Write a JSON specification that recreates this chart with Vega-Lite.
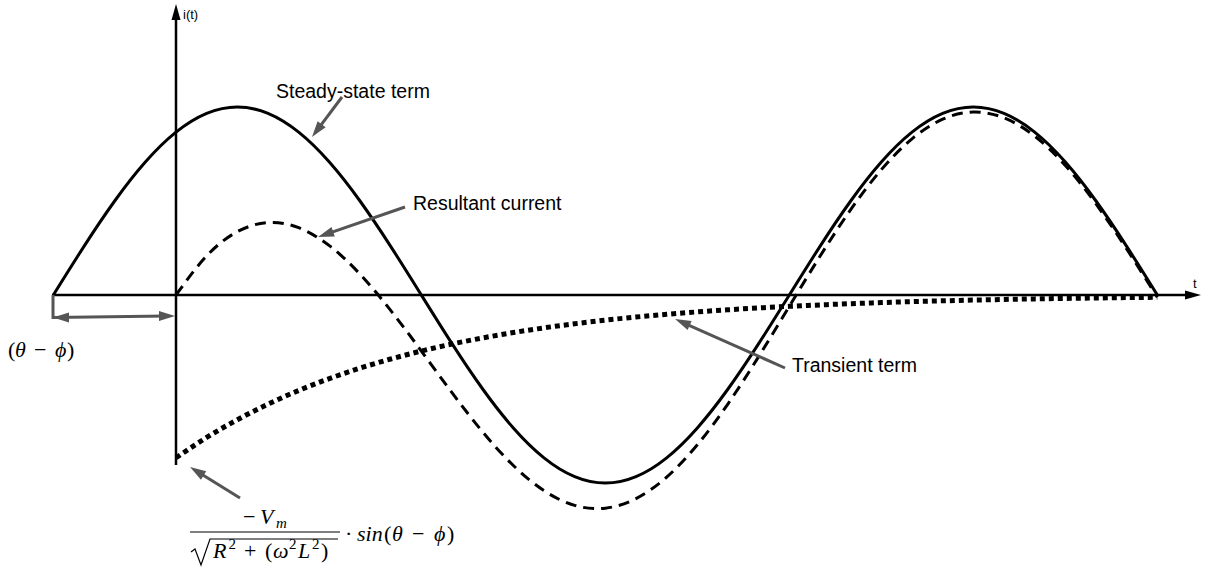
{
  "$schema": "https://vega.github.io/schema/vega-lite/v6.json",
  "width": 1207,
  "height": 570,
  "padding": 0,
  "autosize": {"type": "none"},
  "background": "white",
  "config": {"view": {"stroke": null}},
  "datasets": {
    "steady": [
      {"deg": -60, "i": 0}, {"deg": -45, "i": 0.2588}, {"deg": -30, "i": 0.5}, {"deg": -15, "i": 0.7071},
      {"deg": 0, "i": 0.866}, {"deg": 15, "i": 0.9659}, {"deg": 30, "i": 1}, {"deg": 45, "i": 0.9659},
      {"deg": 60, "i": 0.866}, {"deg": 75, "i": 0.7071}, {"deg": 90, "i": 0.5}, {"deg": 105, "i": 0.2588},
      {"deg": 120, "i": 0}, {"deg": 135, "i": -0.2588}, {"deg": 150, "i": -0.5}, {"deg": 165, "i": -0.7071},
      {"deg": 180, "i": -0.866}, {"deg": 195, "i": -0.9659}, {"deg": 210, "i": -1}, {"deg": 225, "i": -0.9659},
      {"deg": 240, "i": -0.866}, {"deg": 255, "i": -0.7071}, {"deg": 270, "i": -0.5}, {"deg": 285, "i": -0.2588},
      {"deg": 300, "i": 0}, {"deg": 315, "i": 0.2588}, {"deg": 330, "i": 0.5}, {"deg": 345, "i": 0.7071},
      {"deg": 360, "i": 0.866}, {"deg": 375, "i": 0.9659}, {"deg": 390, "i": 1}, {"deg": 405, "i": 0.9659},
      {"deg": 420, "i": 0.866}, {"deg": 435, "i": 0.7071}, {"deg": 450, "i": 0.5}, {"deg": 465, "i": 0.2588},
      {"deg": 480, "i": 0}
    ],
    "transient": [
      {"deg": 0, "i": -0.866}, {"deg": 15, "i": -0.7579}, {"deg": 30, "i": -0.6633}, {"deg": 45, "i": -0.5805},
      {"deg": 60, "i": -0.508}, {"deg": 75, "i": -0.4446}, {"deg": 90, "i": -0.3891}, {"deg": 105, "i": -0.3405},
      {"deg": 120, "i": -0.298}, {"deg": 135, "i": -0.2608}, {"deg": 150, "i": -0.2283}, {"deg": 165, "i": -0.1998},
      {"deg": 180, "i": -0.1748}, {"deg": 195, "i": -0.153}, {"deg": 210, "i": -0.1339}, {"deg": 225, "i": -0.1172},
      {"deg": 240, "i": -0.1026}, {"deg": 255, "i": -0.0898}, {"deg": 270, "i": -0.0786}, {"deg": 285, "i": -0.0688},
      {"deg": 300, "i": -0.0602}, {"deg": 315, "i": -0.0527}, {"deg": 330, "i": -0.0461}, {"deg": 345, "i": -0.0403},
      {"deg": 360, "i": -0.0353}, {"deg": 375, "i": -0.0309}, {"deg": 390, "i": -0.027}, {"deg": 405, "i": -0.0237},
      {"deg": 420, "i": -0.0207}, {"deg": 435, "i": -0.0181}, {"deg": 450, "i": -0.0159}, {"deg": 465, "i": -0.0139},
      {"deg": 480, "i": -0.0122}
    ],
    "resultant": [
      {"deg": 0, "i": 0}, {"deg": 15, "i": 0.208}, {"deg": 30, "i": 0.3367}, {"deg": 45, "i": 0.3854},
      {"deg": 60, "i": 0.358}, {"deg": 75, "i": 0.2625}, {"deg": 90, "i": 0.1109}, {"deg": 105, "i": -0.0817},
      {"deg": 120, "i": -0.298}, {"deg": 135, "i": -0.5196}, {"deg": 150, "i": -0.7283}, {"deg": 165, "i": -0.9069},
      {"deg": 180, "i": -1.0408}, {"deg": 195, "i": -1.1189}, {"deg": 210, "i": -1.1339}, {"deg": 225, "i": -1.0831},
      {"deg": 240, "i": -0.9686}, {"deg": 255, "i": -0.7969}, {"deg": 270, "i": -0.5786}, {"deg": 285, "i": -0.3276},
      {"deg": 300, "i": -0.0602}, {"deg": 315, "i": 0.2061}, {"deg": 330, "i": 0.4539}, {"deg": 345, "i": 0.6668},
      {"deg": 360, "i": 0.8307}, {"deg": 375, "i": 0.935}, {"deg": 390, "i": 0.973}, {"deg": 405, "i": 0.9422},
      {"deg": 420, "i": 0.8453}, {"deg": 435, "i": 0.689}, {"deg": 450, "i": 0.4841}, {"deg": 465, "i": 0.2449},
      {"deg": 480, "i": -0.0122}
    ],
    "axes": [
      {"seg": "t", "k": 0, "deg": -60.65, "i": 0},
      {"seg": "t", "k": 1, "deg": 496.96, "i": 0},
      {"seg": "i", "k": 0, "deg": 0, "i": -0.9043},
      {"seg": "i", "k": 1, "deg": 0, "i": 1.4894}
    ],
    "axisHeads": [
      {"deg": 501.36, "i": 0, "ang": 90},
      {"deg": 0, "i": 1.5479, "ang": 0}
    ],
    "pointers": [
      {"seg": "steady", "k": 0, "deg": 81.2, "i": 1.0532},
      {"seg": "steady", "k": 1, "deg": 68.87, "i": 0.8745},
      {"seg": "resultant", "k": 0, "deg": 112.01, "i": 0.4681},
      {"seg": "resultant", "k": 1, "deg": 73.17, "i": 0.3223},
      {"seg": "transient", "k": 0, "deg": 297.88, "i": -0.3883},
      {"seg": "transient", "k": 1, "deg": 247.65, "i": -0.1452},
      {"seg": "initial", "k": 0, "deg": 31.3, "i": -1.0798},
      {"seg": "initial", "k": 1, "deg": 10.17, "i": -0.9372},
      {"seg": "shift", "k": 0, "deg": -60.16, "i": 0},
      {"seg": "shift", "k": 1, "deg": -60.16, "i": -0.1197},
      {"seg": "shift", "k": 2, "deg": -4.4, "i": -0.1117}
    ],
    "pointerHeads": [
      {"deg": 66.52, "i": 0.8404, "ang": 216.87},
      {"deg": 69.46, "i": 0.3085, "ang": 250.97},
      {"deg": 244.08, "i": -0.1277, "ang": 294.0},
      {"deg": 6.848, "i": -0.9149, "ang": 301.8},
      {"deg": -60.16, "i": -0.1197, "ang": 270},
      {"deg": -0.489, "i": -0.1117, "ang": 90}
    ],
    "formulaStrokes": [
      {"seg": "bar", "k": 0, "deg": 6.848, "i": -1.2606},
      {"seg": "bar", "k": 1, "deg": 80.217, "i": -1.2606},
      {"seg": "root", "k": 0, "deg": 7.337, "i": -1.367},
      {"seg": "root", "k": 1, "deg": 9.293, "i": -1.3511},
      {"seg": "root", "k": 2, "deg": 12.228, "i": -1.4362},
      {"seg": "root", "k": 3, "deg": 16.63, "i": -1.2979},
      {"seg": "root", "k": 4, "deg": 79.239, "i": -1.2979}
    ],
    "labels": [
      {"deg": 48.91, "i": 1.0479, "label": "Steady-state term"},
      {"deg": 115.92, "i": 0.4521, "label": "Resultant current"},
      {"deg": 301.3, "i": -0.4096, "label": "Transient term"}
    ],
    "axisLabels": [
      {"deg": 3.424, "i": 1.4894, "label": "i(t)"},
      {"deg": 497.45, "i": 0.0585, "label": "t"}
    ],
    "mathItalic": [
      {"deg": -78.75, "i": -0.3298, "label": "θ"},
      {"deg": -59.18, "i": -0.3298, "label": "ϕ"},
      {"deg": 41.09, "i": -1.2181, "label": "V"},
      {"deg": 18.1, "i": -1.3989, "label": "R"},
      {"deg": 47.45, "i": -1.3989, "label": "ω"},
      {"deg": 59.67, "i": -1.3989, "label": "L"},
      {"deg": 88.53, "i": -1.3085, "label": "sin"},
      {"deg": 105.65, "i": -1.3085, "label": "θ"},
      {"deg": 126.2, "i": -1.3085, "label": "ϕ"}
    ],
    "mathUpright": [
      {"deg": -82.17, "i": -0.3298, "label": "("},
      {"deg": -69.46, "i": -0.3298, "label": "−"},
      {"deg": -53.32, "i": -0.3298, "label": ")"},
      {"deg": 32.77, "i": -1.2181, "label": "−"},
      {"deg": 33.26, "i": -1.3989, "label": "+"},
      {"deg": 43.53, "i": -1.3989, "label": "("},
      {"deg": 70.92, "i": -1.3989, "label": ")"},
      {"deg": 82.66, "i": -1.3085, "label": "·"},
      {"deg": 101.74, "i": -1.3085, "label": "("},
      {"deg": 115.43, "i": -1.3085, "label": "−"},
      {"deg": 132.55, "i": -1.3085, "label": ")"}
    ],
    "mathSup": [
      {"deg": 25.68, "i": -1.3511, "label": "2"},
      {"deg": 55.27, "i": -1.3511, "label": "2"},
      {"deg": 66.52, "i": -1.3511, "label": "2"}
    ],
    "mathSub": [
      {"deg": 48.91, "i": -1.2394, "label": "m"}
    ]
  },
  "encoding": {
    "x": {"field": "deg", "type": "quantitative", "axis": null,
          "scale": {"domain": [-86.087, 504.29], "nice": false, "zero": false}},
    "y": {"field": "i", "type": "quantitative", "axis": null,
          "scale": {"domain": [-1.46277, 1.56915], "nice": false, "zero": false}}
  },
  "layer": [
    {
      "data": {"name": "transient"},
      "mark": {"type": "line", "interpolate": "natural", "color": "#000000", "strokeWidth": 5, "strokeDash": [5, 4], "strokeCap": "butt"},
      "encoding": {}
    },
    {
      "data": {"name": "resultant"},
      "mark": {"type": "line", "interpolate": "natural", "color": "#000000", "strokeWidth": 3, "strokeDash": [11, 7], "strokeCap": "butt"},
      "encoding": {}
    },
    {
      "data": {"name": "steady"},
      "mark": {"type": "line", "interpolate": "natural", "color": "#000000", "strokeWidth": 3},
      "encoding": {}
    },
    {
      "data": {"name": "axes"},
      "mark": {"type": "line", "color": "#000000", "strokeWidth": 2.5},
      "encoding": {"detail": {"field": "seg"}, "order": {"field": "k", "type": "quantitative"}}
    },
    {
      "data": {"name": "axisHeads"},
      "mark": {"type": "point", "shape": "M0,0L-0.45,1.6L0.45,1.6Z", "filled": true, "color": "#000000", "opacity": 1, "size": 400},
      "encoding": {"angle": {"field": "ang", "type": "quantitative", "scale": null}}
    },
    {
      "data": {"name": "pointers"},
      "mark": {"type": "line", "color": "#555555", "strokeWidth": 3},
      "encoding": {"detail": {"field": "seg"}, "order": {"field": "k", "type": "quantitative"}}
    },
    {
      "data": {"name": "pointerHeads"},
      "mark": {"type": "point", "shape": "M0,0L-0.5,1.6L0.5,1.6Z", "filled": true, "color": "#555555", "opacity": 1, "size": 400},
      "encoding": {"angle": {"field": "ang", "type": "quantitative", "scale": null}}
    },
    {
      "data": {"name": "formulaStrokes"},
      "mark": {"type": "line", "color": "#000000", "strokeWidth": 1.2},
      "encoding": {"detail": {"field": "seg"}, "order": {"field": "k", "type": "quantitative"}}
    },
    {
      "data": {"name": "labels"},
      "mark": {"type": "text", "align": "left", "baseline": "alphabetic", "font": "Liberation Sans", "fontSize": 19.5, "color": "#000000"},
      "encoding": {"text": {"field": "label"}}
    },
    {
      "data": {"name": "axisLabels"},
      "mark": {"type": "text", "align": "left", "baseline": "middle", "font": "Liberation Sans", "fontSize": 13, "color": "#000000"},
      "encoding": {"text": {"field": "label"}}
    },
    {
      "data": {"name": "mathItalic"},
      "mark": {"type": "text", "align": "left", "baseline": "alphabetic", "font": "Liberation Serif", "fontStyle": "italic", "fontSize": 22, "color": "#000000"},
      "encoding": {"text": {"field": "label"}}
    },
    {
      "data": {"name": "mathUpright"},
      "mark": {"type": "text", "align": "left", "baseline": "alphabetic", "font": "Liberation Serif", "fontSize": 22, "color": "#000000"},
      "encoding": {"text": {"field": "label"}}
    },
    {
      "data": {"name": "mathSup"},
      "mark": {"type": "text", "align": "left", "baseline": "alphabetic", "font": "Liberation Serif", "fontSize": 15, "color": "#000000"},
      "encoding": {"text": {"field": "label"}}
    },
    {
      "data": {"name": "mathSub"},
      "mark": {"type": "text", "align": "left", "baseline": "alphabetic", "font": "Liberation Serif", "fontStyle": "italic", "fontSize": 15, "color": "#000000"},
      "encoding": {"text": {"field": "label"}}
    }
  ]
}
